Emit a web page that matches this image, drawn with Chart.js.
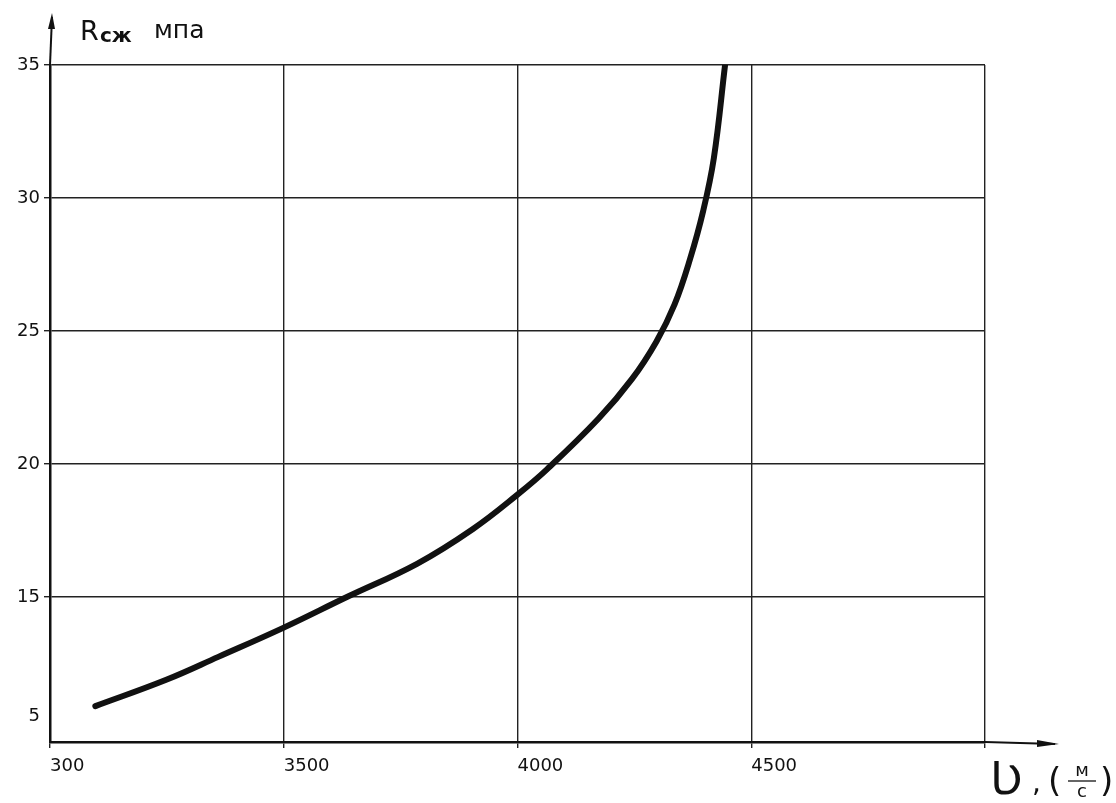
<!DOCTYPE html>
<html lang="ru">
<head>
  <meta charset="UTF-8">
  <title>Rсж от скорости ультразвука</title>
  <script src="https://cdn.jsdelivr.net/npm/chart.js"></script>
  <style>
    body { margin: 0; background: #fff; }
    #wrap { width: 1116px; height: 803px; }
  </style>
</head>
<body>
  <div id="wrap"><canvas id="myChart"></canvas></div>

  <script>
    // curve (speed, m/s -> strength, MPa)
    const speed    = [3097, 3250, 3360, 3500, 3635, 3785, 3904, 4000, 4063, 4173, 4245, 4297, 4336, 4369, 4397, 4420, 4444];
    const strength = [10.9, 11.9, 12.75, 13.85, 15.0, 16.25, 17.55, 18.85, 19.8, 21.7, 23.2, 24.6, 26.0, 27.7, 29.5, 31.5, 35.0];

    // ticks as lettered on the sheet
    const xTickValues = [3000, 3500, 4000, 4500, 5000];
    const xTickLabels = ['300', '3500', '4000', '4500', ''];
    const yTickValues = [10.5, 15, 20, 25, 30, 35];
    const yTickLabels = ['5', '15', '20', '25', '30', '35'];

    const ink = '#111';
    const font = '"DejaVu Sans", sans-serif';

    // axis arrows and hand-lettered axis titles
    const decor = {
      id: 'decor',
      afterDraw(chart) {
        const { ctx, chartArea: a } = chart;
        ctx.save();
        ctx.strokeStyle = ink;
        ctx.fillStyle = ink;
        ctx.lineWidth = 2;

        // y axis extension + arrow
        ctx.beginPath();
        ctx.moveTo(a.left, a.top);
        ctx.lineTo(a.left + 2, a.top - 48);
        ctx.stroke();
        ctx.beginPath();
        ctx.moveTo(a.left + 2, a.top - 52);
        ctx.lineTo(a.left - 2, a.top - 36);
        ctx.lineTo(a.left + 5, a.top - 36);
        ctx.closePath();
        ctx.fill();

        // x axis extension + arrow
        ctx.beginPath();
        ctx.moveTo(a.right, a.bottom);
        ctx.lineTo(a.right + 70, a.bottom + 2);
        ctx.stroke();
        ctx.beginPath();
        ctx.moveTo(a.right + 74, a.bottom + 2);
        ctx.lineTo(a.right + 52, a.bottom - 2);
        ctx.lineTo(a.right + 52, a.bottom + 5);
        ctx.closePath();
        ctx.fill();

        // y title: R сж  мпа
        ctx.textBaseline = 'alphabetic';
        ctx.textAlign = 'left';
        ctx.font = '27px ' + font;
        ctx.fillText('R', a.left + 30, a.top - 25);
        ctx.font = 'bold 20px ' + font;
        ctx.fillText('сж', a.left + 50, a.top - 23);
        ctx.font = '25px ' + font;
        ctx.fillText('мпа', a.left + 104, a.top - 27);

        // x title: Ʋ, (м/с)
        const bx = a.right + 5;
        const by = a.bottom + 52;
        ctx.font = '44px ' + font;
        ctx.fillText('Ʋ', bx, by);
        ctx.font = '28px ' + font;
        ctx.fillText(',', bx + 42, by - 2);
        ctx.font = '34px ' + font;
        ctx.fillText('(', bx + 58, by - 2);
        ctx.fillText(')', bx + 110, by - 2);
        ctx.font = '18px ' + font;
        ctx.textAlign = 'center';
        ctx.fillText('м', bx + 92, by - 18);
        ctx.fillText('с', bx + 92, by + 3);
        ctx.lineWidth = 1.3;
        ctx.beginPath();
        ctx.moveTo(bx + 78, by - 13);
        ctx.lineTo(bx + 106, by - 13);
        ctx.stroke();
        ctx.restore();
      }
    };

    const data = {
      datasets: [{
        data: speed.map((v, i) => ({ x: v, y: strength[i] })),
        borderColor: ink,
        borderWidth: 6,
        borderCapStyle: 'round',
        pointRadius: 0,
        fill: false,
        tension: 0.4,
      }]
    };

    const options = {
      responsive: true,
      maintainAspectRatio: false,
      animation: false,
      layout: { padding: { top: 65, right: 131, left: 0, bottom: 0 } },
      plugins: {
        legend: { display: false },
        tooltip: { enabled: false },
      },
      scales: {
        x: {
          type: 'linear',
          min: 3000,
          max: 5000,
          afterBuildTicks: s => { s.ticks = xTickValues.map(v => ({ value: v })); },
          afterFit: s => { s.height = 61; },
          grid: { color: '#222', lineWidth: 1.4, tickLength: 6 },
          border: { color: ink, width: 2.5 },
          ticks: {
            color: ink,
            align: 'start',
            padding: 8,
            font: { family: font, size: 18 },
            callback: (v, i) => xTickLabels[i],
          },
        },
        y: {
          type: 'linear',
          min: 9.55,
          max: 35,
          afterBuildTicks: s => { s.ticks = yTickValues.map(v => ({ value: v })); },
          afterFit: s => { s.width = 50; },
          grid: {
            color: c => (c.index === 0 ? 'rgba(0,0,0,0)' : '#222'),
            lineWidth: 1.4,
            tickLength: 6,
          },
          border: { color: ink, width: 2.5 },
          ticks: {
            color: ink,
            padding: 4,
            font: { family: font, size: 18 },
            callback: (v, i) => yTickLabels[i],
          },
        },
      },
    };

    const ctx = document.getElementById('myChart').getContext('2d');
    const myChart = new Chart(ctx, {
      type: 'line',
      data: data,
      options: options,
      plugins: [decor],
    });
  </script>
</body>
</html>
